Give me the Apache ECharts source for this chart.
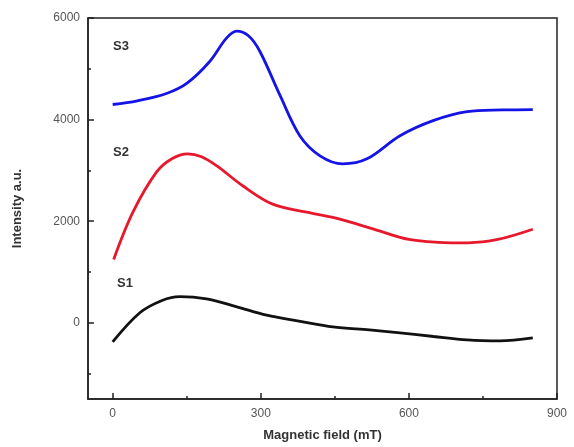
<!DOCTYPE html>
<html>
<head>
<meta charset="utf-8">
<title>Intensity vs magnetic field</title>
<script type="text/javascript" src="https://cdn.jsdelivr.net/npm/echarts@6/dist/echarts.min.js"></script>
</head>
<body style="margin:0">
<div id="main" style="width: 574px; height: 447px;"></div>
<script type="text/javascript">
// field values (mT) and intensities
var s3Field = [0, 50, 109, 150, 197, 230, 251, 275, 298, 339, 379, 420, 466, 515, 582, 649, 718, 790, 851];
var s3Value = [4297, 4370, 4514, 4712, 5148, 5600, 5742, 5650, 5346, 4475, 3683, 3287, 3128, 3227, 3683, 3980, 4158, 4190, 4198];
var s2Field = [2, 41, 89, 120, 152, 180, 211, 264, 324, 393, 460, 530, 600, 660, 720, 780, 851];
var s2Value = [1247, 2178, 2970, 3230, 3326, 3270, 3089, 2693, 2336, 2178, 2039, 1840, 1640, 1585, 1575, 1640, 1841];
var s1Field = [0, 55, 100, 136, 190, 250, 312, 380, 446, 520, 582, 650, 718, 784, 851];
var s1Value = [-376, 198, 440, 515, 470, 320, 150, 30, -79, -140, -198, -270, -337, -356, -297];

var xLabels = [0, 300, 600, 900];
var xMinor = [150, 450, 750];
var yLabels = [0, 2000, 4000, 6000];
var yMinor = [-1000, 1000, 3000, 5000];

function pairs(xs, ys) {
	var out = [];
	for (var i = 0; i < xs.length; i++) {
		out.push([xs[i], ys[i]]);
	}
	return out;
}

var myChart = echarts.init(document.getElementById('main'));

var fontName = 'Liberation Sans, Arial, sans-serif';
var labelFont = { color: '#555', fontSize: 12, fontFamily: fontName, formatter: function (v) { return String(v); } };

var option = {
	animation: false,
	grid: {
		left: 88, right: 17, top: 18, bottom: 48,
		show: true, borderColor: '#222', borderWidth: 1.5
	},
	xAxis: [{
		type: 'value', min: -50, max: 900,
		name: 'Magnetic field (mT)', nameLocation: 'middle', nameGap: 30,
		nameTextStyle: { fontWeight: 'bold', fontSize: 13, color: '#333', fontFamily: fontName },
		axisLine: { onZero: false, lineStyle: { color: '#222', width: 1.5 } },
		axisTick: { inside: true, length: 6, customValues: xLabels, lineStyle: { color: '#222', width: 1.5 } },
		axisLabel: Object.assign({ customValues: xLabels, margin: 9 }, labelFont),
		splitLine: { show: false }
	}, {
		// minor ticks
		type: 'value', min: -50, max: 900, position: 'bottom',
		axisLine: { show: false, onZero: false },
		axisTick: { inside: true, length: 3, customValues: xMinor, lineStyle: { color: '#222', width: 1.5 } },
		axisLabel: { show: false },
		splitLine: { show: false }
	}],
	yAxis: [{
		type: 'value', min: -1500, max: 6000,
		name: 'Intensity a.u.', nameLocation: 'middle', nameGap: 64,
		nameTextStyle: { fontWeight: 'bold', fontSize: 13, color: '#333', fontFamily: fontName },
		axisLine: { show: true, onZero: false, lineStyle: { color: '#222', width: 1.5 } },
		axisTick: { show: true, inside: true, length: 6, customValues: yLabels, lineStyle: { color: '#222', width: 1.5 } },
		axisLabel: Object.assign({ customValues: yLabels, margin: 8 }, labelFont),
		splitLine: { show: false }
	}, {
		type: 'value', min: -1500, max: 6000, position: 'left',
		axisLine: { show: false, onZero: false },
		axisTick: { show: true, inside: true, length: 3, customValues: yMinor, lineStyle: { color: '#222', width: 1.5 } },
		axisLabel: { show: false },
		splitLine: { show: false }
	}],
	graphic: [
		{ type: 'text', left: 113, top: 40, style: { text: 'S3', font: 'bold 13px ' + fontName, fill: '#333' } },
		{ type: 'text', left: 113, top: 146, style: { text: 'S2', font: 'bold 13px ' + fontName, fill: '#333' } },
		{ type: 'text', left: 117, top: 277, style: { text: 'S1', font: 'bold 13px ' + fontName, fill: '#333' } }
	],
	series: [{
		name: 'S3', type: 'line', smooth: 0.35, showSymbol: false,
		data: pairs(s3Field, s3Value),
		lineStyle: { color: '#1414e6', width: 2.8 }
	}, {
		name: 'S2', type: 'line', smooth: 0.35, showSymbol: false,
		data: pairs(s2Field, s2Value),
		lineStyle: { color: '#e8182c', width: 2.8 }
	}, {
		name: 'S1', type: 'line', smooth: 0.35, showSymbol: false,
		data: pairs(s1Field, s1Value),
		lineStyle: { color: '#111', width: 2.8 }
	}]
};

myChart.setOption(option);
</script>
</body>
</html>
